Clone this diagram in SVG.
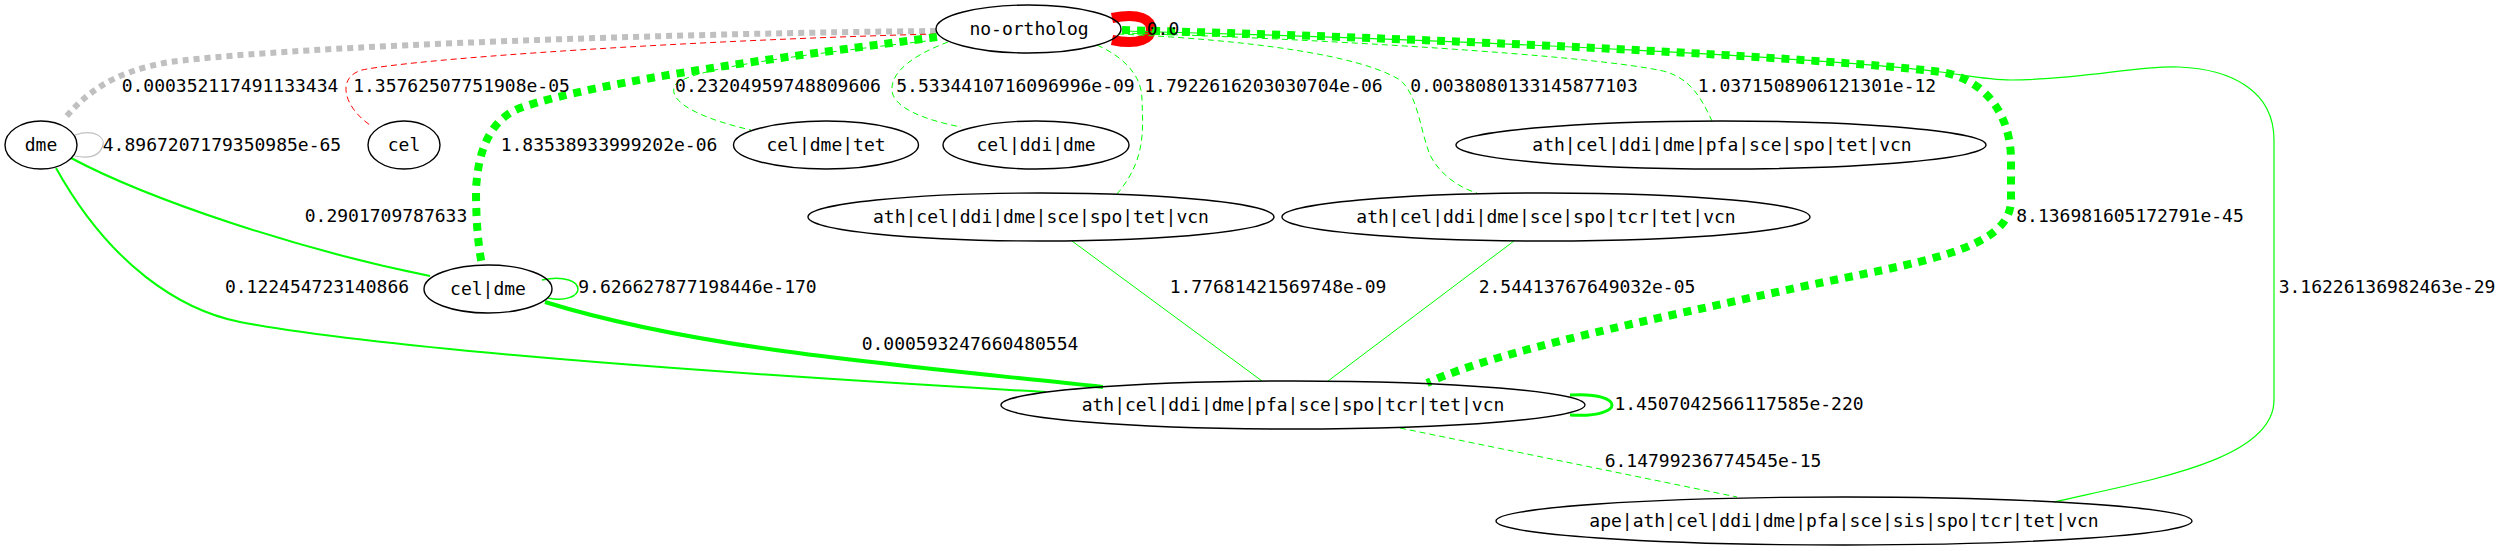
<svg xmlns="http://www.w3.org/2000/svg" width="2501" height="551" viewBox="0 0 2501 551">
<style>
text{font-family:"DejaVu Sans Mono","Liberation Mono",monospace;font-size:18px;fill:#000;text-anchor:middle}
.node ellipse{fill:none;stroke:#000;stroke-width:1.4}
.e{fill:none}
.g{stroke:#00ff00}
.dash{stroke-dasharray:6,4}
.dot{stroke-dasharray:8,7}
</style>
<rect width="2501" height="551" fill="#fff"/>
<g id="connectors">
<path class="e" d="M936,31 C700,33 300,45 170,62 C110,72 85,95 65,118" stroke="#c0c0c0" stroke-width="6" stroke-dasharray="6,5"/>
<path class="e" d="M75,135 C95,128 105,138 103,145 C101,152 95,160 75,156" stroke="#c0c0c0" stroke-width="1.2"/>
<path class="e" d="M936,34 C700,40 420,58 362,70 C335,78 345,108 370,125" stroke="#ff0000" stroke-width="1" stroke-dasharray="6,4"/>
<path class="e" d="M1112,18 C1140,12 1151,20 1151,29 C1151,38 1140,46 1112,40" stroke="#ff0000" stroke-width="10"/>
<path class="e g dot" d="M937,37 C800,55 600,80 520,108 C490,120 478,150 476,190 C476,220 478,245 482,265" stroke-width="8"/>
<path class="e g dash" d="M936,40 C800,55 690,68 675,85 C665,105 715,122 751,130" stroke-width="1"/>
<path class="e g dash" d="M948,42 C900,60 888,80 893,95 C900,112 935,122 961,127" stroke-width="1"/>
<path class="e g dash" d="M1097,45 C1130,60 1142,80 1142,100 C1143,130 1146,160 1117,194" stroke-width="1"/>
<path class="e g dash" d="M1118,34 C1250,40 1360,55 1400,80 C1418,95 1420,130 1430,155 C1440,175 1460,188 1477,193" stroke-width="1"/>
<path class="e g dash" d="M1122,33 C1300,38 1600,55 1667,72 C1690,80 1700,95 1712,121" stroke-width="1"/>
<path class="e g" d="M1122,31 C1500,40 1850,60 1941,72 C1970,76 1990,80 2011,80 C2080,80 2140,65 2179,67 C2230,69 2274,90 2274,140 L2274,400 C2274,460 2150,480 2054,502" stroke-width="1.2"/>
<path class="e g dot" d="M1122,30 C1500,40 1850,60 1941,72 C1990,80 2011,120 2011,160 L2011,200 C2011,250 1920,262 1800,287 C1650,320 1500,350 1427,383" stroke-width="8"/>
<path class="e g" d="M71,158 C150,200 300,250 430,276" stroke-width="2"/>
<path class="e g" d="M56,168 C110,265 180,310 240,322 C400,352 800,378 1046,392" stroke-width="2"/>
<path class="e g" d="M545,302 C700,350 900,365 1103,387" stroke-width="4"/>
<path class="e g" d="M542,280 C565,275 578,282 578,289 C578,296 565,302 548,298" stroke-width="1.5"/>
<path class="e g" d="M1072,241 L1262,381" stroke-width="1"/>
<path class="e g" d="M1514,241 L1328,381" stroke-width="1"/>
<path class="e g" d="M1570,395 C1600,393 1612,400 1612,405 C1612,410 1600,417 1570,415" stroke-width="3"/>
<path class="e g dash" d="M1400,428 L1737,497" stroke-width="1"/>
<text x="230" y="92">0.000352117491133434</text>
<text x="461.5" y="92">1.35762507751908e-05</text>
<text x="778" y="92">0.23204959748809606</text>
<text x="1015.5" y="92">5.5334410716096996e-09</text>
<text x="1263.5" y="92">1.7922616203030704e-06</text>
<text x="1524" y="92">0.0038080133145877103</text>
<text x="1817" y="92">1.0371508906121301e-12</text>
<text x="1163" y="35">0.0</text>
<text x="222" y="151">4.8967207179350985e-65</text>
<text x="609" y="151">1.83538933999202e-06</text>
<text x="386" y="222">0.2901709787633</text>
<text x="2130" y="222">8.136981605172791e-45</text>
<text x="317" y="293">0.122454723140866</text>
<text x="697.5" y="293">9.626627877198446e-170</text>
<text x="1278" y="293">1.77681421569748e-09</text>
<text x="1587" y="293">2.54413767649032e-05</text>
<text x="2387" y="293">3.16226136982463e-29</text>
<text x="970" y="350">0.000593247660480554</text>
<text x="1739" y="410">1.4507042566117585e-220</text>
<text x="1713" y="467">6.14799236774545e-15</text>
</g>
<g id="n-no-ortholog" class="node"><ellipse cx="1028.5" cy="29" rx="92.5" ry="24"/><text x="1029" y="35">no-ortholog</text></g>
<g id="n-dme" class="node"><ellipse cx="41" cy="145" rx="36" ry="24"/><text x="41" y="151">dme</text></g>
<g id="n-cel" class="node"><ellipse cx="404" cy="145" rx="36" ry="24"/><text x="404" y="151">cel</text></g>
<g id="n-cel-dme-tet" class="node"><ellipse cx="826" cy="145" rx="92.5" ry="24"/><text x="826" y="151">cel|dme|tet</text></g>
<g id="n-cel-ddi-dme" class="node"><ellipse cx="1036" cy="145" rx="93" ry="24"/><text x="1036" y="151">cel|ddi|dme</text></g>
<g id="n-pfa9" class="node"><ellipse cx="1721" cy="145" rx="265" ry="24"/><text x="1722" y="151">ath|cel|ddi|dme|pfa|sce|spo|tet|vcn</text></g>
<g id="n-sce8" class="node"><ellipse cx="1041" cy="217" rx="233" ry="24"/><text x="1041" y="223">ath|cel|ddi|dme|sce|spo|tet|vcn</text></g>
<g id="n-tcr9" class="node"><ellipse cx="1546" cy="217" rx="264" ry="24"/><text x="1546" y="223">ath|cel|ddi|dme|sce|spo|tcr|tet|vcn</text></g>
<g id="n-cel-dme" class="node"><ellipse cx="488" cy="289" rx="64" ry="24"/><text x="488" y="295">cel|dme</text></g>
<g id="n-main" class="node"><ellipse cx="1293" cy="405" rx="292" ry="24"/><text x="1293" y="411">ath|cel|ddi|dme|pfa|sce|spo|tcr|tet|vcn</text></g>
<g id="n-ape" class="node"><ellipse cx="1844" cy="521" rx="348" ry="24"/><text x="1844" y="527">ape|ath|cel|ddi|dme|pfa|sce|sis|spo|tcr|tet|vcn</text></g>
</svg>
